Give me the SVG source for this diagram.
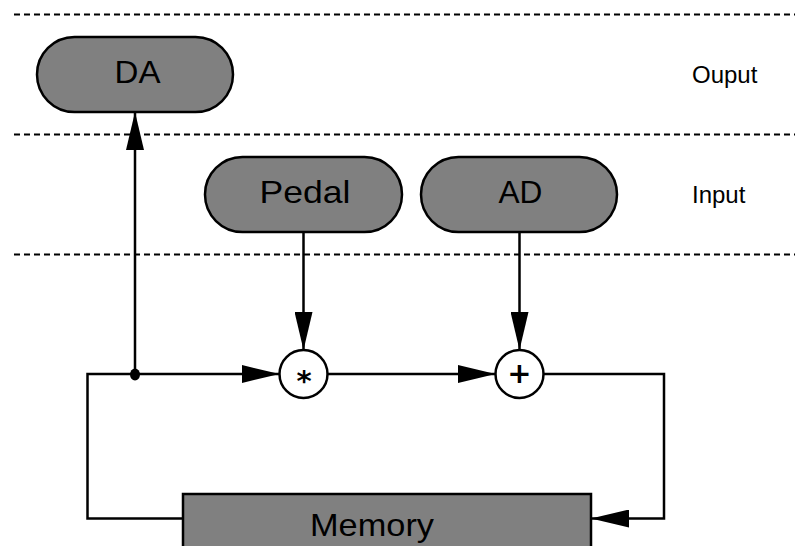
<svg xmlns="http://www.w3.org/2000/svg" width="795" height="546" viewBox="0 0 795 546">
  <style>
    .sep { stroke: #000; stroke-width: 2; stroke-dasharray: 6 4; fill: none; }
    .box { fill: #808080; stroke: #000; stroke-width: 2.5; }
    .op { fill: #fff; stroke: #000; stroke-width: 2.5; }
    .lbl { font-family: "Liberation Sans", Arial, sans-serif; font-size: 31.5px; fill: #000; text-anchor: middle; }
    .side { font-family: "Liberation Sans", Arial, sans-serif; font-size: 24px; fill: #000; }
    .sym { font-family: "DejaVu Sans", sans-serif; font-size: 29px; font-weight: bold; fill: #000; text-anchor: middle; }
    .wire { stroke: #000; stroke-width: 2.5; fill: none; }
  </style>
  <defs>
    <marker id="arrow" viewBox="0 0 38 18" refX="38" refY="9" markerWidth="38" markerHeight="18" markerUnits="userSpaceOnUse" orient="auto">
      <path d="M0,0 L38,9 L0,18 Z" fill="#000"/>
    </marker>
  </defs>
  <rect width="795" height="546" fill="#fff"/>

  <g id="separators">
    <line class="sep" x1="14" y1="14.5" x2="795" y2="14.5"/>
    <line class="sep" x1="14" y1="134.5" x2="795" y2="134.5"/>
    <line class="sep" x1="14" y1="254.5" x2="795" y2="254.5"/>
  </g>

  <g id="lane-labels">
    <text class="side" x="692" y="83">Ouput</text>
    <text class="side" x="692" y="203">Input</text>
  </g>

  <g id="connectors">
    <line class="wire" x1="135" y1="374" x2="135" y2="112" marker-end="url(#arrow)"/>
    <line class="wire" x1="303.5" y1="232" x2="303.5" y2="350" marker-end="url(#arrow)"/>
    <line class="wire" x1="519.5" y1="232" x2="519.5" y2="350" marker-end="url(#arrow)"/>
    <polyline class="wire" points="183,518.5 87.5,518.5 87.5,374 279.5,374" marker-end="url(#arrow)"/>
    <line class="wire" x1="327.5" y1="374" x2="495.5" y2="374" marker-end="url(#arrow)"/>
    <polyline class="wire" points="543.5,374 664,374 664,518.5 591,518.5" marker-end="url(#arrow)"/>
    <ellipse cx="135" cy="374.5" rx="5" ry="6" fill="#000"/>
  </g>

  <g id="DA">
    <rect class="box" x="37" y="37" width="196" height="75" rx="37.5" ry="37.5"/>
    <text class="lbl" x="137.5" y="83" textLength="46" lengthAdjust="spacingAndGlyphs">DA</text>
  </g>

  <g id="Pedal">
    <rect class="box" x="205" y="157" width="197" height="75" rx="37.5" ry="37.5"/>
    <text class="lbl" x="305" y="203" textLength="91" lengthAdjust="spacingAndGlyphs">Pedal</text>
  </g>

  <g id="AD">
    <rect class="box" x="421" y="157" width="196" height="75" rx="37.5" ry="37.5"/>
    <text class="lbl" x="520.5" y="203" textLength="44" lengthAdjust="spacingAndGlyphs">AD</text>
  </g>

  <g id="mul">
    <circle class="op" cx="303.5" cy="374" r="24"/>
    <text class="sym" x="304" y="391">*</text>
  </g>

  <g id="add">
    <circle class="op" cx="519.5" cy="374" r="24"/>
    <text class="sym" x="519.5" y="383">+</text>
  </g>

  <g id="Memory">
    <rect class="box" x="183" y="494" width="408" height="70"/>
    <text class="lbl" x="372" y="535.5" textLength="124" lengthAdjust="spacingAndGlyphs">Memory</text>
  </g>
</svg>
